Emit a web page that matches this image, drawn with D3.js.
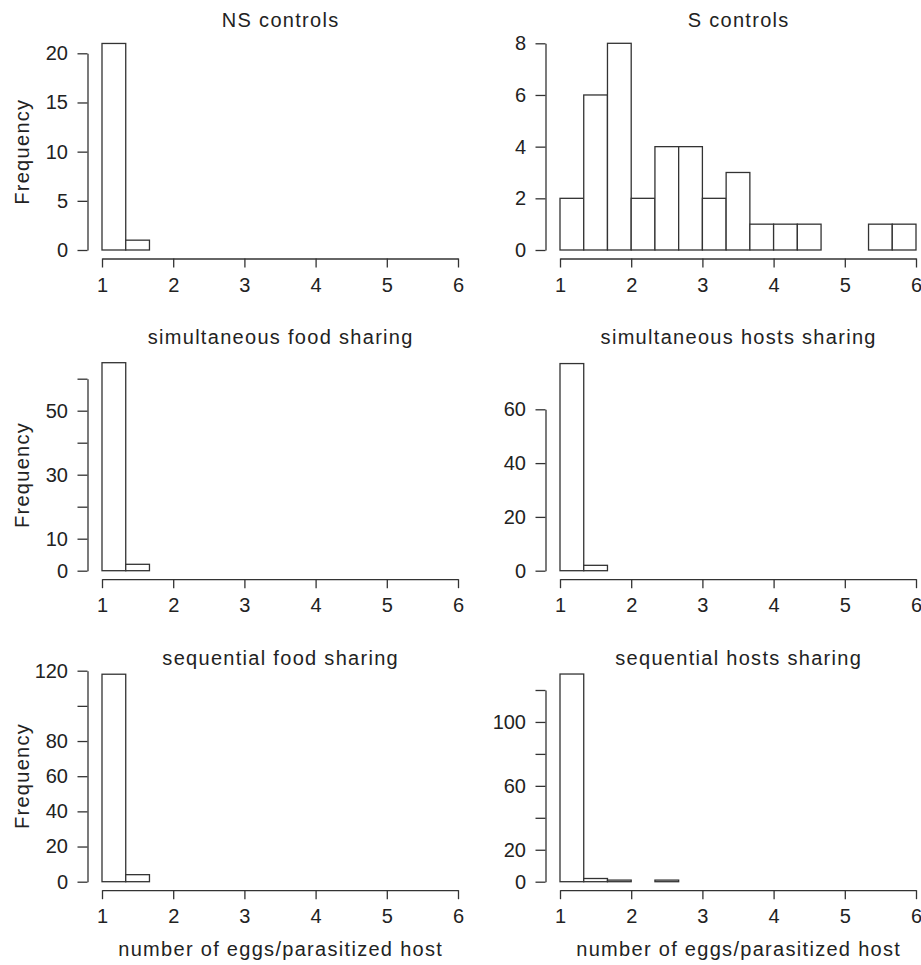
<!DOCTYPE html>
<html>
<head>
<meta charset="utf-8">
<title>eggs per parasitized host</title>
<style>
  body{ margin:0; background:#fff; }
  svg{ display:block; }
  text{ font-family:"Liberation Sans", Arial, sans-serif; fill:#222; }
  .lbl{ letter-spacing:1.3px; }
</style>
</head>
<body>
<script src="https://cdn.jsdelivr.net/npm/d3@7"></script>
<script>
// bin breaks (width 1/3) and tick labels
var breaks = [1, 4/3, 5/3, 2, 7/3, 8/3, 3, 10/3, 11/3, 4, 13/3, 14/3, 5, 16/3, 17/3, 6];
var xTicks = [1, 2, 3, 4, 5, 6];

// counts per bin
var nsControls = [21, 1, 0, 0, 0, 0, 0, 0, 0, 0, 0, 0, 0, 0, 0];
var sControls  = [2, 6, 8, 2, 4, 4, 2, 3, 1, 1, 1, 0, 0, 1, 1];
var simFood    = [65, 2, 0, 0, 0, 0, 0, 0, 0, 0, 0, 0, 0, 0, 0];
var simHosts   = [77, 2, 0, 0, 0, 0, 0, 0, 0, 0, 0, 0, 0, 0, 0];
var seqFood    = [118, 4, 0, 0, 0, 0, 0, 0, 0, 0, 0, 0, 0, 0, 0];
var seqHosts   = [130, 2, 1, 0, 1, 0, 0, 0, 0, 0, 0, 0, 0, 0, 0];

var titles = ['NS controls', 'S controls', 'simultaneous food sharing',
              'simultaneous hosts sharing', 'sequential food sharing', 'sequential hosts sharing'];

// y ticks and which of them get a label (R drops the crowded ones)
var yTicks = [
  [0, 5, 10, 15, 20],
  [0, 2, 4, 6, 8],
  [0, 10, 20, 30, 40, 50, 60],
  [0, 20, 40, 60],
  [0, 20, 40, 60, 80, 100, 120],
  [0, 20, 40, 60, 80, 100, 120]
];
var yLabels = [
  [0, 5, 10, 15, 20],
  [0, 2, 4, 6, 8],
  [0, 10, 30, 50],
  [0, 20, 40, 60],
  [0, 20, 40, 60, 80, 120],
  [0, 20, 60, 100]
];
var counts = [nsControls, sControls, simFood, simHosts, seqFood, seqHosts];

// layout
var W = 921, H = 965;
var colX = [[102, 458], [560, 916]];
var colAxis = [87.5, 545.5];
var rowBase = [250, 570.7, 881.7];
var topTickY = [53.3, 43.3, 378.7, 409.3, 670.7, 690];
var titleY = [26.7, 344.3, 665];
var freqY = [151.7, 475, 776];
var ink = '#333';

var svg = d3.select('body').append('svg').attr('width', W).attr('height', H);

counts.forEach(function(c, i){
  var col = i % 2, row = Math.floor(i / 2);
  var base = rowBase[row];
  var yt = yTicks[i];

  var x = d3.scaleLinear().domain([1, 6]).range(colX[col]);
  var y = d3.scaleLinear().domain([0, yt[yt.length - 1]]).range([base, topTickY[i]]);

  var g = svg.append('g');

  // bars (zero bins draw as flat lines like R's hist)
  g.selectAll('rect').data(c).enter().append('rect')
    .attr('x', function(d, k){ return x(breaks[k]); })
    .attr('width', function(d, k){ return x(breaks[k + 1]) - x(breaks[k]); })
    .attr('y', function(d){ return y(d); })
    .attr('height', function(d){ return y(0) - y(d); })
    .attr('fill', '#fff')
    .attr('stroke', ink)
    .attr('stroke-width', 1.3);

  // x axis
  var xa = g.append('g')
    .attr('transform', 'translate(0,' + (base + 8.5) + ')')
    .call(d3.axisBottom(x).tickValues(xTicks).tickFormat(d3.format('d'))
      .tickSize(9).tickSizeOuter(0).tickPadding(9.8));

  // y axis
  var ya = g.append('g')
    .attr('transform', 'translate(' + colAxis[col] + ',0)')
    .call(d3.axisLeft(y).tickValues(yt)
      .tickFormat(function(v){ return yLabels[i].indexOf(v) >= 0 ? v : ''; })
      .tickSize(10).tickSizeOuter(0).tickPadding(9.5));

  [xa, ya].forEach(function(a){
    a.selectAll('path, line').attr('stroke', ink).attr('stroke-width', 1.3);
    a.selectAll('text').attr('fill', '#222').style('font-size', '20px')
      .style('font-family', '"Liberation Sans", Arial, sans-serif');
  });

  // title
  g.append('text').attr('class', 'lbl')
    .attr('x', (colX[col][0] + colX[col][1]) / 2 + 0.7)
    .attr('y', titleY[row])
    .attr('text-anchor', 'middle')
    .style('font-size', '20px')
    .text(titles[i]);

  if(col === 0){
    g.append('text').attr('class', 'lbl')
      .attr('transform', 'translate(29,' + freqY[row] + ') rotate(-90)')
      .attr('text-anchor', 'middle')
      .style('font-size', '20px')
      .text('Frequency');
  }
  if(row === 2){
    g.append('text').attr('class', 'lbl')
      .attr('x', (colX[col][0] + colX[col][1]) / 2 + 0.7)
      .attr('y', 956)
      .attr('text-anchor', 'middle')
      .style('font-size', '20px')
      .text('number of eggs/parasitized host');
  }
});
</script>
</body>
</html>
